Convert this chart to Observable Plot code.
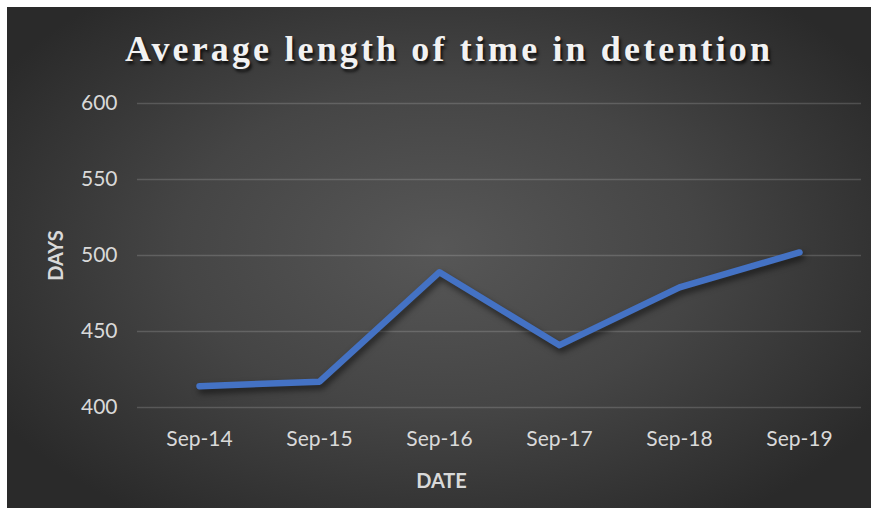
<!DOCTYPE html>
<html>
<head>
<meta charset="utf-8">
<script src="https://cdn.jsdelivr.net/npm/d3@7"></script>
<script src="https://cdn.jsdelivr.net/npm/@observablehq/plot@0.6"></script>
<style>
  html, body { margin: 0; padding: 0; background: #ffffff; }
  #frame {
    position: absolute; left: 7px; top: 7px; width: 864px; height: 501px;
    background: radial-gradient(ellipse 60% 65% at 50% 48%, #575757 0%, #454545 50%, #2a2a2a 100%);
    overflow: hidden;
  }
  #title {
    position: absolute; left: 118px; top: 24px; line-height: 1;
    font-family: "Liberation Serif", "DejaVu Serif", serif; font-weight: bold;
    font-size: 36px; color: #f2f2f2; white-space: nowrap;
    text-shadow: 2px 3px 3px rgba(0,0,0,0.75);
  }
  #chart { position: absolute; left: 0; top: 0; }
  #chart svg .dataline path { filter: drop-shadow(2px 4px 3px rgba(0,0,0,0.55)); }
</style>
</head>
<body>
<div id="frame">
  <div id="chart"></div>
  <div id="title">Average length of time in detention</div>
</div>
<script>
const categories = ["Sep-14", "Sep-15", "Sep-16", "Sep-17", "Sep-18", "Sep-19"];
const values = [414, 417, 489, 441, 479, 502];
const yTicks = [400, 450, 500, 550, 600];
const xLabel = "DATE";
const yLabel = "DAYS";

const data = categories.map((c, i) => ({date: c, days: values[i]}));

// spread the title letters to the reference width
const title = document.getElementById("title");
const w0 = title.getBoundingClientRect().width;
const n = title.textContent.length;
title.style.letterSpacing = ((645 - w0) / (n - 1)) + "px";

const font = "Lato, 'Open Sans', sans-serif";
const plot = Plot.plot({
  width: 864,
  height: 501,
  marginTop: 96,
  marginBottom: 101,
  marginLeft: 130,
  marginRight: 10,
  style: {background: "transparent", color: "#d9d9d9", fontFamily: font, fontSize: "21px"},
  x: {type: "band", domain: categories, padding: 0},
  y: {domain: [400, 600]},
  marks: [
    Plot.gridY(yTicks, {stroke: "#ffffff", strokeOpacity: 0.16, strokeWidth: 1.5}),
    Plot.axisX({tickSize: 0, tickPadding: 24, label: null, fontSize: 21}),
    Plot.axisY(yTicks, {tickSize: 0, tickPadding: 20, label: yLabel, labelAnchor: "center", labelOffset: 89, labelArrow: "none", fontSize: 21}),
    Plot.text([xLabel], {frameAnchor: "bottom", dx: -58, dy: 74, lineAnchor: "middle", fontSize: 20, fontWeight: "bold", fill: "#d9d9d9"}),
    Plot.line(data, {x: "date", y: "days", stroke: "#4472C4", strokeWidth: 6.5, strokeLinecap: "round", strokeLinejoin: "round", className: "dataline"})
  ]
});
document.getElementById("chart").appendChild(plot);
plot.querySelectorAll("[aria-label='y-axis label'] text").forEach(t => {
  t.setAttribute("font-weight", "bold");
  t.setAttribute("font-size", "20");
});
</script>
</body>
</html>
